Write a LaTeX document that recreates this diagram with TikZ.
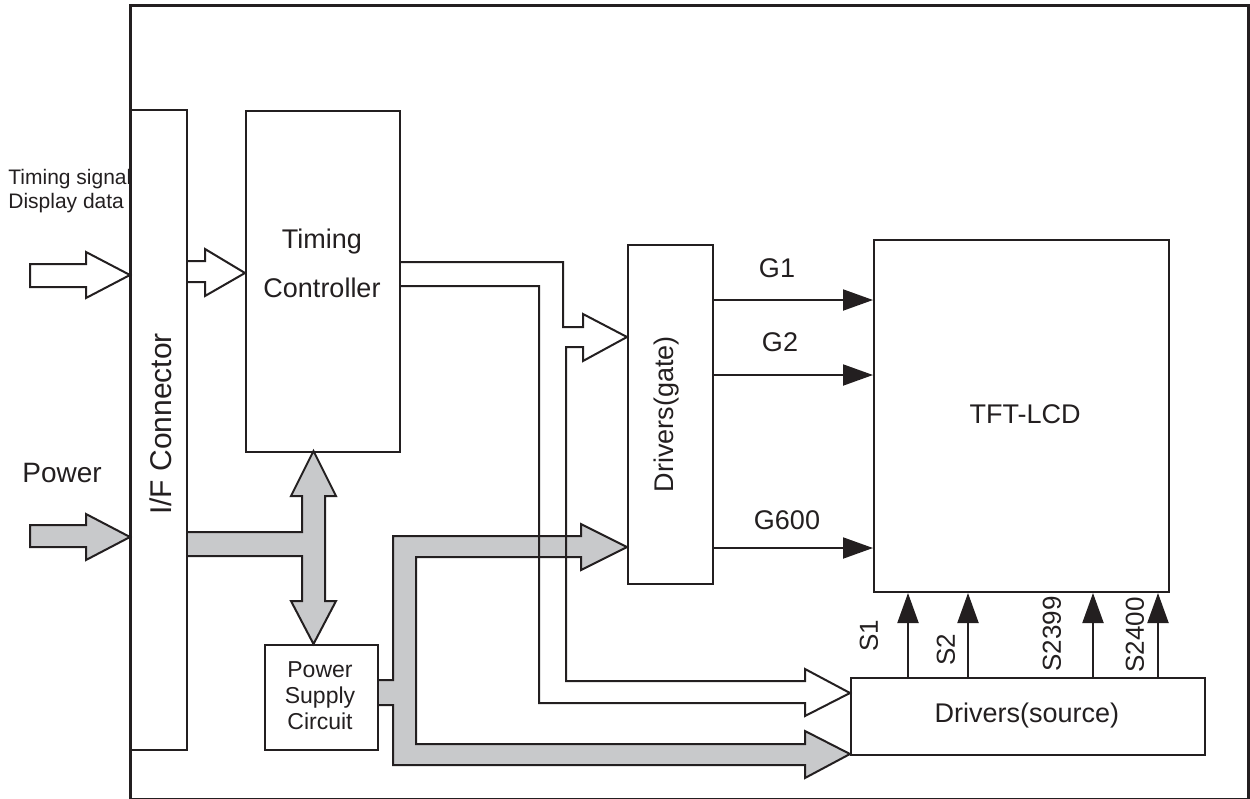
\documentclass[tikz,border=0pt]{standalone}
\usepackage{fontspec}
\setmainfont{Liberation Sans}
\usetikzlibrary{arrows.meta}
\definecolor{ink}{HTML}{231F20}
\definecolor{bus}{HTML}{C8C9CB}
\tikzset{
  blk/.style={draw=ink, line width=1pt, inner sep=0pt, anchor=north west, fill=white},
  lbl/.style={text=ink, inner sep=0pt, font=\fontsize{13.5pt}{16pt}\selectfont},
  sig/.style={draw=ink, line width=1pt, -{Triangle[length=15pt,width=10.5pt]}},
  hollow/.style={draw=ink, line width=1pt, fill=white, line join=miter},
  wire/.style={draw=ink, line width=1pt, line join=miter},
  busarrow/.style={draw=ink, line width=1pt, fill=bus, line join=miter},
}
\begin{document}
\begin{tikzpicture}[x=0.5pt,y=-0.5pt]
\useasboundingbox (0,0) rectangle (1250,799);
% outer frame
\node[blk, draw=ink, line width=1.3pt, fill=none, minimum width=559pt, minimum height=397pt] (frame) at (129,4) {};
% blocks
\node[blk, minimum width=28pt, minimum height=320pt] (ifc) at (130,109) {};
\node[blk, minimum width=77pt, minimum height=170.5pt] (tc) at (245,110) {};
\node[blk, minimum width=42.5pt, minimum height=169.5pt] (gate) at (627,244) {};
\node[blk, minimum width=147.5pt, minimum height=176pt] (tft) at (873,239) {};
\node[blk, minimum width=177pt, minimum height=38.5pt] (src) at (850,677) {};
\node[blk, minimum width=56.5pt, minimum height=52.5pt] (psc) at (264,644) {};
% texts
\node[lbl, anchor=base west, font=\fontsize{10.5pt}{12pt}\selectfont] (ts) at (8,184) {Timing signal};
\node[lbl, anchor=base west, font=\fontsize{10.5pt}{12pt}\selectfont] (dd) at (8,208) {Display data};
\node[lbl, anchor=base west, font=\fontsize{14pt}{16pt}\selectfont] (pw) at (22,482) {Power};
\node[lbl, rotate=90, font=\fontsize{15pt}{18pt}\selectfont] (ifct) at (161,424) {I/F Connector};
\node[lbl, anchor=base] (tc1) at (322,248) {Timing};
\node[lbl, anchor=base] (tc2) at (322,297) {Controller};
\node[lbl, rotate=90] (gatet) at (667,414) {Drivers(gate)};
\node[lbl] (tftt) at (1025,414) {TFT-LCD};
\node[lbl] (srct) at (1027,716) {Drivers(source)};
\node[lbl, align=center, font=\fontsize{11.5pt}{13pt}\selectfont] (psct) at (320,696) {Power\\Supply\\Circuit};
\node[lbl] (g1t) at (777,268) {G1};
\node[lbl] (g2t) at (780,342) {G2};
\node[lbl] (g600t) at (787,520) {G600};
\node[lbl, rotate=90, font=\fontsize{13pt}{15pt}\selectfont] (s1t) at (869,636) {S1};
\node[lbl, rotate=90, font=\fontsize{13pt}{15pt}\selectfont] (s2t) at (946,650) {S2};
\node[lbl, rotate=90, font=\fontsize{13pt}{15pt}\selectfont] (s2399t) at (1052,634) {S2399};
\node[lbl, rotate=90, font=\fontsize{13pt}{15pt}\selectfont] (s2400t) at (1135,635) {S2400};
% gate signals
\coordinate (yg1) at (0,300);
\coordinate (yg2) at (0,375);
\coordinate (yg600) at (0,548);
\draw[sig] (gate.east |- yg1) -- (tft.west |- yg1);
\draw[sig] (gate.east |- yg2) -- (tft.west |- yg2);
\draw[sig] (gate.east |- yg600) -- (tft.west |- yg600);
% source signals
\coordinate (xs1) at (908,0);
\coordinate (xs2) at (968,0);
\coordinate (xs3) at (1093,0);
\coordinate (xs4) at (1158,0);
\draw[sig] (src.north -| xs1) -- (tft.south -| xs1);
\draw[sig] (src.north -| xs2) -- (tft.south -| xs2);
\draw[sig] (src.north -| xs3) -- (tft.south -| xs3);
\draw[sig] (src.north -| xs4) -- (tft.south -| xs4);
% input hollow arrow
\draw[hollow] (30,264) -- (86,264) -- (86,252) -- (ifc.west |- 0,275) -- (86,298) -- (86,287) -- (30,287) -- cycle;
% I/F -> timing controller
\draw[hollow] (ifc.east |- 0,261) -- (205,261) -- (205,249) -- (tc.west |- 0,273) -- (205,296) -- (205,282) -- (ifc.east |- 0,282);
% power input
\draw[busarrow] (30,525) -- (86,525) -- (86,514) -- (ifc.west |- 0,537) -- (86,560) -- (86,547) -- (30,547) -- cycle;
% power T bus
\draw[busarrow] (ifc.east |- 0,532) -- (302,532) -- (302,496) -- (291,496) -- (313.5,451) -- (336,496) -- (325,496)
  -- (325,601) -- (336,601) -- (313.5,644) -- (291,601) -- (302,601) -- (302,556) -- (ifc.east |- 0,556);
% power supply bus
\draw[busarrow] (psc.east |- 0,680) -- (393,680) -- (393,536) -- (581,536) -- (581,524) -- (gate.west |- 0,547) -- (581,570)
  -- (581,557) -- (416,557) -- (416,744) -- (805,744) -- (805,731) -- (src.west |- 0,754) -- (805,778) -- (805,765)
  -- (393,765) -- (393,705) -- (psc.east |- 0,705);
% timing controller outputs
\draw[wire] (tc.east |- 0,262) -- (563,262) -- (563,327) -- (583,327) -- (583,314) -- (gate.west |- 0,337) -- (583,361)
  -- (583,347) -- (566,347) -- (566,681) -- (805,681) -- (805,669) -- (src.west |- 0,693) -- (805,716) -- (805,703)
  -- (539,703) -- (539,286) -- (tc.east |- 0,286);
\end{tikzpicture}
\end{document}
